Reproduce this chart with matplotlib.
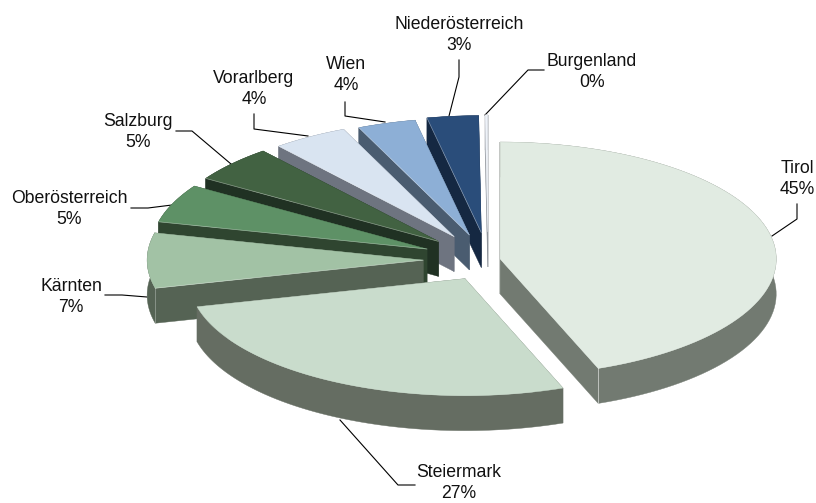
import numpy as np
import matplotlib
matplotlib.use('Agg')
import matplotlib.pyplot as plt
from matplotlib.patches import Polygon

plt.rcParams['font.family'] = ['Liberation Sans', 'DejaVu Sans']

# data
regions = ['Tirol', 'Steiermark', 'Kärnten', 'Oberösterreich', 'Salzburg',
           'Vorarlberg', 'Wien', 'Niederösterreich', 'Burgenland']
shares = [44.2, 26.9, 7.6, 5.3, 5.0, 4.4, 3.4, 3.0, 0.15]
pct_labels = ['45%', '27%', '7%', '5%', '5%', '4%', '4%', '3%', '0%']

# styles
top_colors = ['#E1EBE2', '#C9DCCC', '#A2C2A5', '#5E9166', '#426242',
              '#D9E4F1', '#8DAFD6', '#2A4D7A', '#EEF2F8']
side_colors = ['#727A71', '#656D62', '#556354', '#2F4530', '#203123',
               '#6E7480', '#4A5C70', '#152842', '#8A8F96']
explode = [0.045, 0.18, 0.235, 0.24, 0.24, 0.235, 0.225, 0.235, 0.24]

# pie geometry in pixels
cx, cy = 488, 260
rx, ry = 276, 117
depth = 35

# label layout in pixels
label_pos = [(797, 179), (459, 483), (71, 297), (69, 209), (138, 132),
             (254, 89), (346, 75), (459, 35), (592, 72)]
leaders = [
    [(772, 236), (797, 219), (797, 204)],
    [(340, 420), (398, 485), (415, 485)],
    [(105, 295), (122, 295), (147, 297)],
    [(131, 208), (148, 208), (172, 205)],
    [(176, 131), (192, 131), (231, 164)],
    [(254, 114), (254, 129), (308, 136)],
    [(345, 102), (345, 116), (385, 122)],
    [(459, 60), (459, 77), (449, 116)],
    [(544, 70), (528, 70), (485, 115)],
]

fig = plt.figure(figsize=(8.16, 5.03), dpi=100)
ax = fig.add_axes([0, 0, 1, 1])
ax.set_xlim(0, 816)
ax.set_ylim(503, 0)
ax.axis('off')

edges = np.cumsum([0] + shares) / sum(shares) * 2 * np.pi


def face(pts, color, z):
    ax.add_patch(Polygon(pts, closed=True, facecolor=color, edgecolor=color,
                         linewidth=0.3, zorder=z))


for leader in leaders:
    xs, ys = zip(*leader)
    ax.plot(xs, ys, color='black', lw=0.8, zorder=1)

# back slices first, each one covers the cut face of the one behind it
for i in range(len(shares) - 1, -1, -1):
    t0, t1 = edges[i], edges[i + 1]
    mid = (t0 + t1) / 2
    ox = cx + explode[i] * rx * np.sin(mid)
    oy = cy - explode[i] * ry * np.cos(mid)

    t = np.linspace(t0, t1, 80)
    arc = np.column_stack([ox + rx * np.sin(t), oy - ry * np.cos(t)])
    apex = np.array([ox, oy])
    down = np.array([0, depth])
    z = 2 + (len(shares) - i) * 0.1

    face(np.vstack([arc, arc[::-1] + down]), side_colors[i], z)
    face([apex, arc[0], arc[0] + down, apex + down], side_colors[i], z)
    face([apex, arc[-1], arc[-1] + down, apex + down], side_colors[i], z)
    face(np.vstack([apex, arc]), top_colors[i], z + 0.01)

    # thin light edges where the faces meet
    if i == 0:
        ax.plot([arc[-1][0]] * 2, [arc[-1][1], arc[-1][1] + depth],
                color='white', alpha=0.6, lw=0.6, zorder=z + 0.02)
    if i == 2:
        ax.plot([arc[0][0]] * 2, [arc[0][1], arc[0][1] + depth],
                color='white', alpha=0.3, lw=0.6, zorder=z + 0.02)
    if 2 <= i <= 7:
        ax.plot([apex[0], arc[0][0]], [apex[1], arc[0][1]],
                color='white', alpha=0.4, lw=0.5, zorder=z + 0.02)

for i in range(len(regions)):
    ax.text(label_pos[i][0], label_pos[i][1], regions[i] + '\n' + pct_labels[i],
            ha='center', va='center', fontsize=12.7, color='#111111',
            linespacing=1.38, zorder=10)

fig.savefig('out.png', dpi=100)
